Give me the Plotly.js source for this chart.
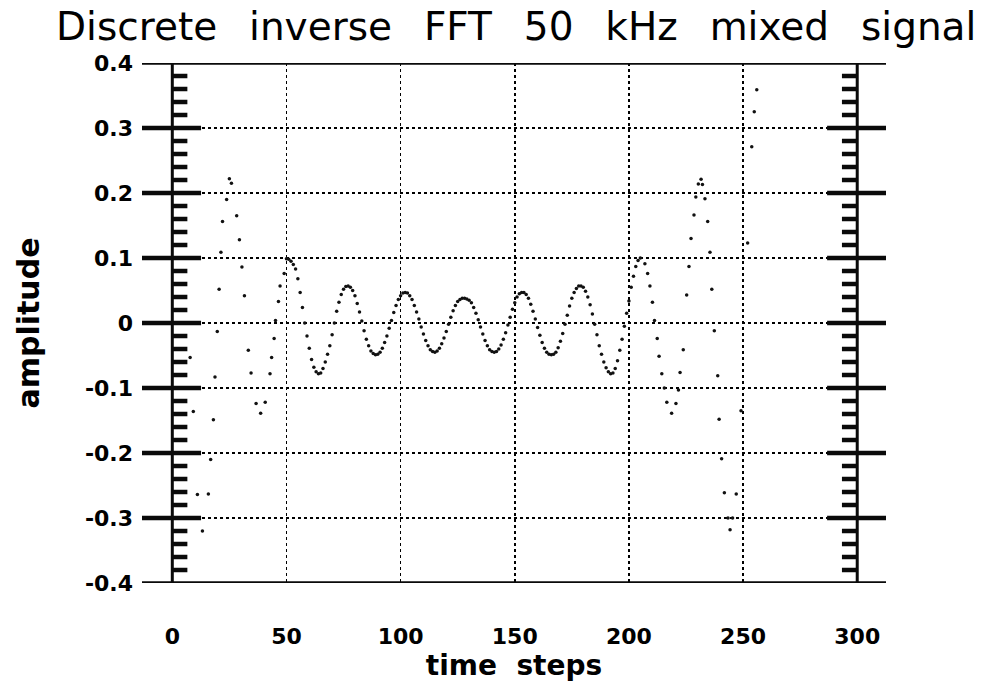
<!DOCTYPE html>
<html>
<head>
<meta charset="utf-8">
<script src="https://cdn.plot.ly/plotly-3.0.1.min.js"></script>
<style>html,body{margin:0;padding:0;background:#fff;}#chart{width:984px;height:686px;}</style>
</head>
<body>
<div id="chart"></div>
<script>
// ---- data ----
const leftX = [7.8, 9.2, 11.0, 13.2, 15.8, 16.8, 18.0, 18.7, 19.7, 20.5, 21.3, 22.0, 23.8, 25.0, 25.9, 28.2, 29.4, 30.5, 31.6, 33.3, 34.5, 36.7, 38.7, 40.7, 42.8, 43.5, 44.6, 45.2, 46.5, 47.2, 49.0, 50.0];
const leftY = [-0.053, -0.136, -0.264, -0.320, -0.263, -0.210, -0.149, -0.083, -0.013, 0.052, 0.109, 0.156, 0.190, 0.222, 0.215, 0.165, 0.128, 0.086, 0.042, -0.042, -0.077, -0.124, -0.139, -0.122, -0.078, -0.053, -0.024, 0.004, 0.033, 0.057, 0.076, 0.099];

const centerStart = 51; // first time step of the smooth middle part
const centerY = [
  0.098, 0.095, 0.090, 0.083, 0.068, 0.047, 0.024, 0.000, -0.020, -0.039,
  -0.056, -0.068, -0.075, -0.078, -0.077, -0.070, -0.060, -0.048, -0.035, -0.018,
  0.000, 0.018, 0.032, 0.044, 0.052, 0.056, 0.057, 0.055, 0.050, 0.042,
  0.030, 0.017, 0.003, -0.012, -0.025, -0.035, -0.043, -0.047, -0.049, -0.048,
  -0.045, -0.039, -0.030, -0.020, -0.008, 0.004, 0.016, 0.027, 0.036, 0.042,
  0.046, 0.047, 0.046, 0.042, 0.036, 0.027, 0.017, 0.006, -0.006, -0.017,
  -0.027, -0.035, -0.041, -0.044, -0.045, -0.043, -0.039, -0.032, -0.023, -0.013,
  -0.002, 0.009, 0.019, 0.027, 0.033, 0.036, 0.038, 0.038, 0.037, 0.035,
  0.031, 0.024, 0.015, 0.005, -0.006, -0.017, -0.027, -0.035, -0.041, -0.044,
  -0.045, -0.044, -0.040, -0.034, -0.025, -0.015, -0.003, 0.009, 0.021, 0.031,
  0.040, 0.045, 0.047, 0.047, 0.044, 0.038, 0.029, 0.018, 0.006, -0.007,
  -0.019, -0.030, -0.039, -0.045, -0.048, -0.049, -0.048, -0.045, -0.038, -0.028,
  -0.016, -0.002, 0.012, 0.026, 0.038, 0.047, 0.053, 0.057, 0.057, 0.055,
  0.049, 0.040, 0.028, 0.014, -0.002, -0.018, -0.035, -0.048, -0.060, -0.069,
  -0.075, -0.078, -0.077, -0.070, -0.058, -0.042, -0.025, -0.005, 0.015, 0.034,
  0.055, 0.072, 0.087, 0.096, 0.100
];

const rightX = [207.0, 208.2, 209.2, 210.3, 211.2, 212.4, 213.2, 214.4, 215.5, 216.6, 218.7, 220.6, 221.7, 222.4, 223.8, 225.3, 226.3, 227.2, 228.5, 229.3, 230.4, 231.6, 232.2, 233.3, 234.5, 235.5, 236.3, 237.4, 238.9, 239.5, 240.6, 241.8, 243.4, 244.3, 245.4, 247.0, 249.1, 252.0, 253.8, 254.9, 256.0];
const rightY = [0.091, 0.076, 0.057, 0.032, 0.004, -0.024, -0.051, -0.078, -0.100, -0.122, -0.139, -0.124, -0.103, -0.076, -0.041, 0.043, 0.087, 0.130, 0.166, 0.194, 0.214, 0.221, 0.213, 0.191, 0.156, 0.109, 0.052, -0.012, -0.081, -0.148, -0.209, -0.261, -0.300, -0.318, -0.300, -0.263, -0.135, 0.123, 0.271, 0.325, 0.359];

const xTickVals = [0, 50, 100, 150, 200, 250, 300];
const xTickText = ['0', '50', '100', '150', '200', '250', '300'];
const yTickVals = [-0.4, -0.3, -0.2, -0.1, 0, 0.1, 0.2, 0.3, 0.4];
const yTickText = ['-0.4', '-0.3', '-0.2', '-0.1', '0', '0.1', '0.2', '0.3', '0.4'];

// ---- build ----
const centerX = centerY.map((_, i) => centerStart + i);
const allX = leftX.concat(centerX, rightX);
const allY = leftY.concat(centerY, rightY);

const trace = {
  x: allX, y: allY, type: 'scatter', mode: 'markers',
  marker: {color: '#111', size: 3.5},
  hoverinfo: 'x+y', showlegend: false
};

const XMIN = -13.27, XMAX = 312.6;
const shapes = [];
const ink = '#0a0a0a';
function seg(x0, x1, y0, y1, w, xref) {
  shapes.push({type: 'line', xref: xref || 'x', yref: 'y', x0: x0, x1: x1, y0: y0, y1: y1,
    line: {color: ink, width: w}, layer: 'above'});
}
// frame top / bottom
seg(0, 1, 0.4, 0.4, 3.5, 'paper');
seg(0, 1, -0.4, -0.4, 3.5, 'paper');
// vertical axes at 0 and 300
seg(0, 0, -0.4, 0.4, 3);
seg(300, 300, -0.4, 0.4, 3);
// major and minor ticks
for (let k = -40; k <= 40; k += 2) {
  const y = k / 100;
  if (k % 10 === 0) {
    if (Math.abs(k) === 40) continue;
    seg(XMIN, 12.6, y, y, 4.5);
    seg(286.8, XMAX, y, y, 4.5);
  } else {
    seg(0, 6.6, y, y, 4.5);
    seg(293.3, 300, y, y, 4.5);
  }
}

const gap = '\u00a0\u2002';
const layout = {
  width: 984, height: 686,
  margin: {l: 142, r: 98, t: 63, b: 103},
  paper_bgcolor: '#fff', plot_bgcolor: '#fff',
  title: {
    text: ['Discrete', 'inverse', 'FFT', '50', 'kHz', 'mixed', 'signal'].join(gap),
    font: {family: 'DejaVu Sans', size: 39, color: '#000'},
    x: 0.503, xanchor: 'center', xref: 'paper', y: 0.962, yref: 'container', yanchor: 'middle'
  },
  xaxis: {
    range: [XMIN, XMAX], tickmode: 'array', tickvals: xTickVals, ticktext: xTickText,
    showgrid: true, gridcolor: '#000', gridwidth: 1.6, griddash: 'dot',
    zeroline: false, showline: false, ticks: '', ticklabelstandoff: 38,
    tickfont: {family: 'DejaVu Sans', size: 22, color: '#000', weight: 'bold'},
    title: {text: 'time\u00a0 steps', standoff: 2,
      font: {family: 'DejaVu Sans', size: 28, color: '#000', weight: 'bold'}},
    fixedrange: true
  },
  yaxis: {
    range: [-0.4, 0.4], tickmode: 'array', tickvals: yTickVals, ticktext: yTickText,
    showgrid: true, gridcolor: '#000', gridwidth: 2.6, griddash: 'dot',
    zeroline: false, showline: false, ticks: '', ticklabelstandoff: 8,
    tickfont: {family: 'DejaVu Sans', size: 22, color: '#000', weight: 'bold'},
    title: {text: 'amplitude', standoff: 36,
      font: {family: 'DejaVu Sans', size: 30, color: '#000', weight: 'bold'}},
    fixedrange: true
  },
  shapes: shapes
};

Plotly.newPlot('chart', [trace], layout, {displayModeBar: false, staticPlot: true});
</script>
</body>
</html>
